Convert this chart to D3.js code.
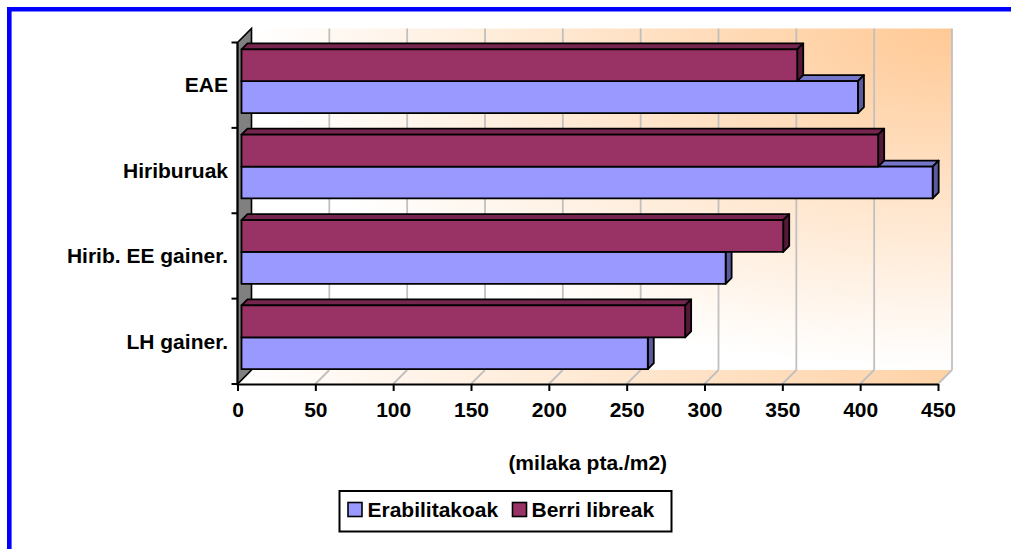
<!DOCTYPE html>
<html>
<head>
<meta charset="utf-8">
<script src="https://cdn.jsdelivr.net/npm/d3@7"></script>
<style>
  html, body { margin: 0; padding: 0; background: #fff; }
  svg { display: block; }
  text { font-family: "Liberation Sans", Arial, sans-serif; font-weight: bold; fill: #000; }
</style>
</head>
<body>
<svg id="chart" width="1011" height="549"></svg>
<script>
// Etxebizitzen prezioak, milaka pta./m2
const categories = ["EAE", "Hiriburuak", "Hirib. EE gainer.", "LH gainer."];
const seriesNames = ["Berri libreak", "Erabilitakoak"];
const berriLibreak = [357, 409, 348, 285];
const erabilitakoak = [396, 444, 311, 261];
const xTicks = [0, 50, 100, 150, 200, 250, 300, 350, 400, 450];
const axisTitle = "(milaka pta./m2)";

const seriesValues = { "Berri libreak": berriLibreak, "Erabilitakoak": erabilitakoak };
const seriesColors = {
  "Erabilitakoak": { front: "#9999FF", top: "#7676C8", side: "#5A5A9C" },
  "Berri libreak": { front: "#993366", top: "#76264E", side: "#541A37" }
};

const svg = d3.select("#chart");

// 3D depth of the plot box and of the bars
const DEPTH = 14, BAR_FRONT = 4, BAR_BACK = 10;

const x = d3.scaleLinear().domain([0, 450]).range([237.5, 938]);
const y = d3.scaleBand().domain(categories).range([42.5, 384]).paddingInner(0).paddingOuter(0);
const inner = d3.scaleBand().domain(seriesNames).range([0, y.bandwidth()]).paddingInner(0).paddingOuter(0.34);

const defs = svg.append("defs");
const wallGrad = defs.append("radialGradient").attr("id", "wallGrad")
  .attr("cx", 1).attr("cy", 0).attr("r", 1).attr("fx", 1).attr("fy", 0);
wallGrad.append("stop").attr("offset", 0).attr("stop-color", "#FFC995");
wallGrad.append("stop").attr("offset", 1).attr("stop-color", "#FFFFFF");

const floorGrad = defs.append("linearGradient").attr("id", "floorGrad")
  .attr("x1", 0).attr("y1", 0).attr("x2", 1).attr("y2", 0);
floorGrad.append("stop").attr("offset", 0).attr("stop-color", "#FFFFFF");
floorGrad.append("stop").attr("offset", 1).attr("stop-color", "#FFD2A6");

// Outer frame (top and left edges)
svg.append("line").attr("x1", 7).attr("x2", 1011).attr("y1", 9.3).attr("y2", 9.3)
  .attr("stroke", "#0000FF").attr("stroke-width", 4.6);
svg.append("line").attr("x1", 9.3).attr("x2", 9.3).attr("y1", 7).attr("y2", 549)
  .attr("stroke", "#0000FF").attr("stroke-width", 4.6);

const x0 = x(0), x1 = x(450);
const yTop = y.range()[0], yBot = y.range()[1];

// Back wall
svg.append("rect")
  .attr("x", x0 + DEPTH).attr("y", yTop - DEPTH)
  .attr("width", x1 - x0).attr("height", yBot - yTop)
  .attr("fill", "url(#wallGrad)");

// Floor
svg.append("polygon")
  .attr("points", [[x0, yBot], [x1, yBot], [x1 + DEPTH, yBot - DEPTH], [x0 + DEPTH, yBot - DEPTH]].map(p => p.join(",")).join(" "))
  .attr("fill", "url(#floorGrad)");

// Gridlines on the back wall and floor
const grid = svg.append("g").attr("stroke", "#C0C0C0").attr("stroke-width", 1.8).attr("fill", "none");
xTicks.forEach(t => {
  const gx = x(t);
  grid.append("line").attr("x1", gx).attr("y1", yBot).attr("x2", gx + DEPTH).attr("y2", yBot - DEPTH);
  if (t > 0) {
    grid.append("line").attr("x1", gx + DEPTH).attr("y1", yBot - DEPTH).attr("x2", gx + DEPTH).attr("y2", yTop - DEPTH);
  }
});

// Side wall
svg.append("polygon")
  .attr("points", [[x0, yTop], [x0 + DEPTH, yTop - DEPTH], [x0 + DEPTH, yBot - DEPTH], [x0, yBot]].map(p => p.join(",")).join(" "))
  .attr("fill", "#808080").attr("stroke", "#000").attr("stroke-width", 1.6).attr("stroke-linejoin", "miter");

// Bars: bottom category first, lower bar before upper bar in each group
const barsG = svg.append("g").attr("stroke", "#000").attr("stroke-width", 1.8).attr("stroke-linejoin", "round");
const drawOrder = [];
categories.slice().reverse().forEach(c => {
  ["Erabilitakoak", "Berri libreak"].forEach(s => {
    drawOrder.push({ c, s, v: seriesValues[s][categories.indexOf(c)] });
  });
});

const bd = BAR_BACK - BAR_FRONT;
drawOrder.forEach(d => {
  const col = seriesColors[d.s];
  const fx0 = x(0) + BAR_FRONT, fx1 = x(d.v) + BAR_FRONT;
  const fy0 = y(d.c) + inner(d.s) - BAR_FRONT, fy1 = fy0 + inner.bandwidth();
  const pts = a => a.map(p => p.join(",")).join(" ");
  barsG.append("polygon").attr("fill", col.top)
    .attr("points", pts([[fx0, fy0], [fx1, fy0], [fx1 + bd, fy0 - bd], [fx0 + bd, fy0 - bd]]));
  barsG.append("polygon").attr("fill", col.side)
    .attr("points", pts([[fx1, fy0], [fx1 + bd, fy0 - bd], [fx1 + bd, fy1 - bd], [fx1, fy1]]));
  barsG.append("rect").attr("fill", col.front)
    .attr("x", fx0).attr("y", fy0).attr("width", fx1 - fx0).attr("height", fy1 - fy0);
});

// Value axis
const xAxis = d3.axisBottom(x).tickValues(xTicks).tickSize(7).tickSizeOuter(0).tickPadding(11);
const xg = svg.append("g").attr("transform", `translate(0,${yBot})`).call(xAxis);
xg.select(".domain").attr("stroke", "#000").attr("stroke-width", 2);
xg.selectAll(".tick line").attr("stroke", "#000").attr("stroke-width", 2);
xg.selectAll(".tick text")
  .attr("font-family", "'Liberation Sans', Arial, sans-serif")
  .attr("font-weight", "bold").attr("font-size", 21).attr("fill", "#000");

// Category axis
const yg = svg.append("g");
yg.append("line").attr("x1", x0).attr("x2", x0).attr("y1", yTop).attr("y2", yBot)
  .attr("stroke", "#000").attr("stroke-width", 2);
const bounds = categories.map(c => y(c)).concat([yBot]);
yg.selectAll("line.tick").data(bounds).join("line").attr("class", "tick")
  .attr("x1", x0 - 6).attr("x2", x0).attr("y1", d => d).attr("y2", d => d)
  .attr("stroke", "#000").attr("stroke-width", 2);
yg.selectAll("text").data(categories).join("text")
  .attr("x", 228).attr("y", d => y(d) + y.bandwidth() / 2 + 7.3)
  .attr("text-anchor", "end").attr("font-size", 21)
  .text(d => d);

// Axis title
svg.append("text").attr("x", (x0 + x1) / 2).attr("y", 470)
  .attr("text-anchor", "middle").attr("font-size", 21).text(axisTitle);

// Legend
const lg = svg.append("g");
lg.append("rect").attr("x", 339.5).attr("y", 491).attr("width", 332).attr("height", 40.5)
  .attr("fill", "#fff").attr("stroke", "#000").attr("stroke-width", 2);
const legendItems = [
  { name: "Erabilitakoak", sx: 348, tx: 367.5 },
  { name: "Berri libreak", sx: 512.5, tx: 531.5 }
];
legendItems.forEach(it => {
  lg.append("rect").attr("x", it.sx).attr("y", 502.5).attr("width", 14).attr("height", 14)
    .attr("fill", seriesColors[it.name].front).attr("stroke", "#000").attr("stroke-width", 1.6);
  lg.append("text").attr("x", it.tx).attr("y", 516.8).attr("font-size", 21).text(it.name);
});
</script>
</body>
</html>
